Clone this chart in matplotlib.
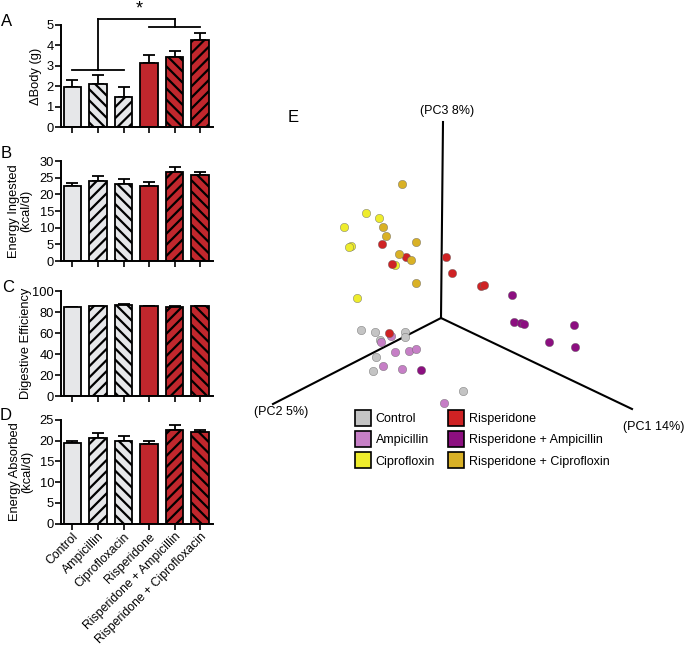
import numpy as np
import matplotlib
matplotlib.use('Agg')
import matplotlib.pyplot as plt
from matplotlib.lines import Line2D

plt.rcParams['font.family'] = ['Liberation Sans', 'DejaVu Sans']
plt.rcParams['hatch.linewidth'] = 1.6

# bar panel data
groups = ['Control', 'Ampicillin', 'Ciprofloxacin', 'Risperidone',
          'Risperidone + Ampicillin', 'Risperidone + Ciprofloxacin']
body_mean = [1.95, 2.1, 1.45, 3.15, 3.45, 4.26]
body_err = [0.35, 0.46, 0.5, 0.38, 0.29, 0.36]
ingested_mean = [22.6, 24.1, 23.1, 22.6, 26.6, 25.9]
ingested_err = [0.9, 1.5, 1.4, 1.0, 1.5, 0.7]
efficiency_mean = [84.8, 85.3, 86.9, 85.4, 85.0, 85.3]
efficiency_err = [0.4, 0.4, 0.5, 0.4, 0.4, 0.4]
absorbed_mean = [19.4, 20.7, 20.0, 19.2, 22.6, 22.0]
absorbed_err = [0.5, 1.1, 1.2, 0.8, 1.2, 0.5]

# significance bracket levels (panel A, in g)
low_bracket = 2.8
high_bracket = 5.28
risp_bracket = 4.89
star_level = 5.8

# PCA scores as projected on the page (x right, y up, origin = axes origin)
pca_groups = ['Control', 'Ampicillin', 'Ciprofloxin', 'Risperidone',
              'Risperidone + Ampicillin', 'Risperidone + Ciprofloxin']
pca_x = {
    'Control': [-80, -66, -61, -36, -36, -65, -68, 22],
    'Ampicillin': [-50, -60, -46, -32, -25, -58, -39, 3],
    'Ciprofloxin': [-75, -62, -97, -90, -92, -46, -84],
    'Risperidone': [-59, -35, -49, 5, 11, 40, 43, -52],
    'Risperidone + Ampicillin': [71, 73, 80, 83, 133, 108, 134, -20],
    'Risperidone + Ciprofloxin': [-39, -58, -55, -25, -42, -30, -25],
}
pca_y = {
    'Control': [-12, -14, -22, -14, -19, -39, -53, -73],
    'Ampicillin': [-18, -24, -34, -33, -31, -48, -51, -85],
    'Ciprofloxin': [105, 100, 91, 72, 71, 53, 20],
    'Risperidone': [74, 61, 54, 61, 45, 32, 33, -15],
    'Risperidone + Ampicillin': [23, -4, -5, -6, -7, -24, -29, -52],
    'Risperidone + Ciprofloxin': [134, 91, 82, 76, 64, 58, 35],
}
pca_colors = ['#c4c4c4', '#c67fc6', '#eeec2c', '#cf2224', '#8c0f80', '#d9b126']

# axis ends and labels of the PCA frame
axis_names = ['(PC3 8%)', '(PC2 5%)', '(PC1 14%)']
axis_end_x = [2, -168, 191]
axis_end_y = [196, -86, -91]
label_x = [6, -160, 213]
label_y = [207, -94, -109]

red = '#c1272d'
grey = '#e6e7e9'
face = [grey, grey, grey, red, red, red]
hatch_a = ['', '\\\\\\', '///', '', '\\\\\\', '///']
hatch_bcd = ['', '///', '\\\\\\', '', '///', '\\\\\\']

fig = plt.figure(figsize=(6.87, 6.49), dpi=100)

# PCA panel first so bar panels sit on top
ax_e = fig.add_axes([230 / 687, 0, 457 / 687, 569 / 649])
ax_e.set_xlim(-211, 246)
ax_e.set_ylim(-331, 238)
ax_e.axis('off')
for ex, ey in zip(axis_end_x, axis_end_y):
    ax_e.plot([0, ex], [0, ey], color='black', lw=1.5, zorder=1)
for name, lx, ly in zip(axis_names, label_x, label_y):
    ax_e.text(lx, ly, name, ha='center', va='center', fontsize=9)
for g, c in zip(pca_groups, pca_colors):
    ax_e.scatter(pca_x[g], pca_y[g], s=36, color=c, edgecolors='#666666',
                 linewidths=0.3, zorder=3)
handles = [Line2D([], [], marker='s', ls='', markersize=11, markerfacecolor=c,
                  markeredgecolor='black', markeredgewidth=1.2) for c in pca_colors]
fig.legend(handles, pca_groups, ncol=2, loc='upper left',
           bbox_to_anchor=(352 / 687, 1 - 408 / 649), frameon=False,
           fontsize=9, handlelength=1.0, handletextpad=0.5, columnspacing=1.2,
           labelspacing=0.75, borderaxespad=0)
fig.text(293 / 687, 1 - 118 / 649, 'E', fontsize=12, ha='center', va='center')

# letter, axes box, mean, err, hatches, y top, y step, y label, label right edge, letter xy (px)
panels = [
    ('A', [0.0888, 0.8043, 0.221, 0.1572], body_mean, body_err, hatch_a, 5, 1,
     '\u0394Body (g)', -0.125, (7, 21)),
    ('B', [0.0888, 0.5978, 0.221, 0.1541], ingested_mean, ingested_err, hatch_bcd, 30, 5,
     'Energy Ingested\n(kcal/d)', -0.19, (6, 153)),
    ('C', [0.0888, 0.3898, 0.221, 0.1618], efficiency_mean, efficiency_err, hatch_bcd, 100, 20,
     'Digestive Efficiency', -0.19, (8, 288)),
    ('D', [0.0888, 0.1930, 0.221, 0.1599], absorbed_mean, absorbed_err, hatch_bcd, 25, 5,
     'Energy Absorbed\n(kcal/d)', -0.185, (6, 415)),
]
x = np.arange(len(groups))
axes = []
for letter, pos, mean, err, hatches, top, step, ylab, lab_x, let_xy in panels:
    ax = fig.add_axes(pos)
    ax.errorbar(x, mean, yerr=[np.zeros(len(err)), err], fmt='none',
                ecolor='black', elinewidth=1.3, capsize=4, capthick=1.3, zorder=1)
    ax.bar(x, mean, width=0.7, color=face, edgecolor='black', linewidth=1.3,
           hatch=hatches, zorder=2)
    ax.set_xlim(-0.45, 5.5)
    ax.set_ylim(0, top)
    ax.set_yticks(np.arange(0, top + 0.1, step))
    ax.set_xticks(x)
    ax.set_xticklabels([])
    for s in ['top', 'right']:
        ax.spines[s].set_visible(False)
    for s in ['left', 'bottom']:
        ax.spines[s].set_linewidth(1.4)
    ax.tick_params(width=1.2, length=4, labelsize=9.3, pad=1)
    ax.set_ylabel(ylab, fontsize=9.3, linespacing=1.0)
    ax.yaxis.set_label_coords(lab_x, 0.5)
    fig.text(let_xy[0] / 687, 1 - let_xy[1] / 649, letter, fontsize=12,
             ha='center', va='center')
    axes.append(ax)

# significance bracket on panel A
ax_a = axes[0]
kw = dict(color='black', lw=1.3, clip_on=False)
ax_a.plot([0, 2], [low_bracket, low_bracket], **kw)
ax_a.plot([1, 1], [low_bracket, high_bracket], **kw)
ax_a.plot([1, 4], [high_bracket, high_bracket], **kw)
ax_a.plot([4, 4], [risp_bracket, high_bracket], **kw)
ax_a.plot([3, 5], [risp_bracket, risp_bracket], **kw)
ax_a.text(2.6, star_level, '*', ha='center', va='center', fontsize=13, clip_on=False)

ax_d = axes[3]
ax_d.set_xticklabels(groups, rotation=45, ha='right', rotation_mode='anchor', fontsize=8.8)

fig.savefig('out.png', dpi=100)
